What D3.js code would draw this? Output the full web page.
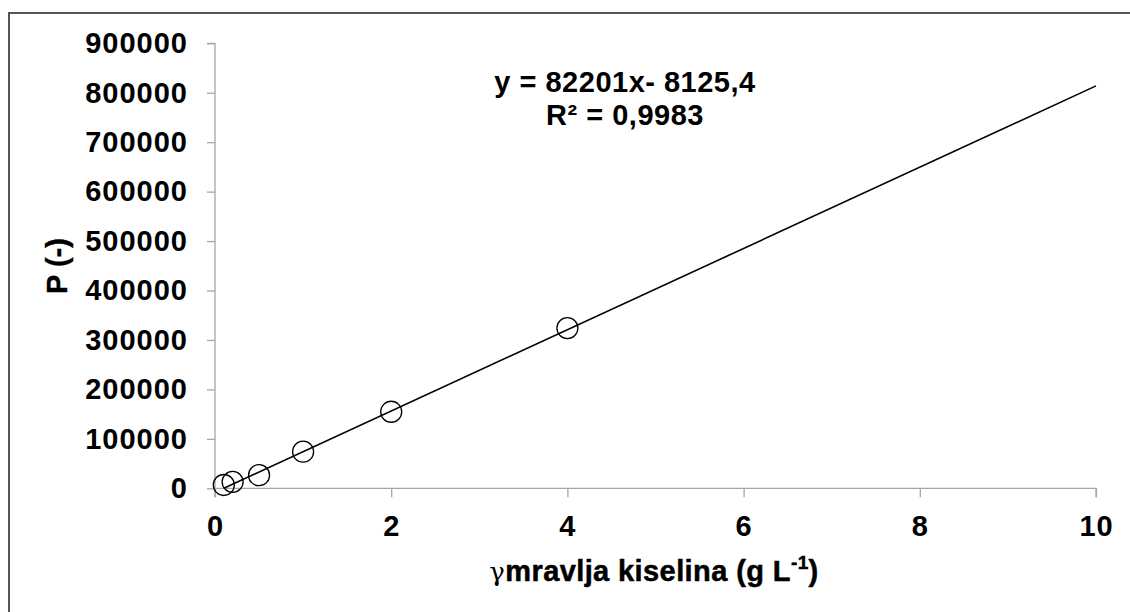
<!DOCTYPE html>
<html>
<head>
<meta charset="utf-8">
<script src="https://cdn.jsdelivr.net/npm/d3@7"></script>
<style>
  html, body { margin: 0; padding: 0; background: #fff; }
  svg { display: block; }
  text { font-family: "Liberation Sans", Arial, sans-serif; font-weight: bold; fill: #000; }
</style>
</head>
<body>
<svg id="chart" width="1130" height="612"></svg>
<script>
// Data
const concentrations = [0.1, 0.2, 0.5, 1, 2, 4];
const peakAreas = [6700, 13000, 26500, 74000, 154800, 324000];
const trendX = [0.1, 10];
const trendY = [95, 813885];
const xTicks = [0, 2, 4, 6, 8, 10];
const yTicks = [0, 100000, 200000, 300000, 400000, 500000, 600000, 700000, 800000, 900000];
const equationLines = ["y = 82201x- 8125,4", "R² = 0,9983"];

const svg = d3.select("#chart");

// outer chart border
svg.append("rect")
  .attr("x", 9).attr("y", 13).attr("width", 1140).attr("height", 620)
  .attr("fill", "none").attr("stroke", "#555").attr("stroke-width", 2);

const x = d3.scaleLinear().domain([0, 10]).range([215, 1096]);
const y = d3.scaleLinear().domain([0, 900000]).range([488.3, 43.3]);

function styleLabels(sel) {
  sel.attr("font-size", 29).attr("font-family", "Liberation Sans, Arial, sans-serif")
    .attr("font-weight", "bold").attr("fill", "#000").attr("letter-spacing", "1px");
}

// Y axis
const yAxis = svg.append("g")
  .attr("transform", `translate(${x(0)},0)`)
  .call(d3.axisLeft(y).tickValues(yTicks).tickFormat(d3.format("d")).tickSize(8).tickPadding(19));
yAxis.select(".domain").attr("stroke", "#a6a6a6").attr("stroke-width", 1.3).attr("d", `M-8,${y(900000)}H0V${y(0)}`);
yAxis.selectAll(".tick line").attr("stroke", "#a6a6a6").attr("stroke-width", 1.3);
styleLabels(yAxis.selectAll(".tick text"));

// X axis
const xAxis = svg.append("g")
  .attr("transform", `translate(0,${y(0)})`)
  .call(d3.axisBottom(x).tickValues(xTicks).tickFormat(d3.format("d")).tickSize(9).tickPadding(18));
xAxis.select(".domain").attr("stroke", "#a6a6a6").attr("stroke-width", 1.3).attr("d", `M${x(0)},9V0H${x(10)}V9`);
xAxis.selectAll(".tick line").attr("stroke", "#a6a6a6").attr("stroke-width", 1.3);
styleLabels(xAxis.selectAll(".tick text"));

// Trend line
svg.append("line")
  .attr("x1", x(trendX[0])).attr("y1", y(trendY[0]))
  .attr("x2", x(trendX[1])).attr("y2", y(trendY[1]))
  .attr("stroke", "#000").attr("stroke-width", 1.6);

// Points
svg.selectAll("circle.pt")
  .data(concentrations.map((c, i) => ({c, p: peakAreas[i]})))
  .join("circle")
  .attr("class", "pt")
  .attr("cx", d => x(d.c)).attr("cy", d => y(d.p))
  .attr("r", 10.5)
  .attr("fill", "none").attr("stroke", "#000").attr("stroke-width", 1.3);

// Equation
svg.append("text")
  .attr("x", 625).attr("y", 92).attr("text-anchor", "middle").attr("font-size", 29)
  .attr("letter-spacing", "0.5px")
  .text(equationLines[0]);
svg.append("text")
  .attr("x", 625).attr("y", 125).attr("text-anchor", "middle").attr("font-size", 29)
  .attr("letter-spacing", "0.5px")
  .text(equationLines[1]);

// Y title
svg.append("text")
  .attr("transform", "translate(67,266) rotate(-90)")
  .attr("text-anchor", "middle").attr("font-size", 29)
  .attr("stroke", "#000").attr("stroke-width", 0.4)
  .text("P (-)");

// X title
const xt = svg.append("text")
  .attr("x", 654).attr("y", 581).attr("text-anchor", "middle").attr("font-size", 29)
  .attr("letter-spacing", "0.4px").attr("stroke", "#000").attr("stroke-width", 0.5);
xt.append("tspan").attr("font-weight", "normal").attr("stroke-width", 0)
  .attr("font-family", "DejaVu Serif, serif").attr("font-size", 26).text("γ");
xt.append("tspan").text("mravlja kiselina (g L");
xt.append("tspan").attr("font-size", 19).attr("dy", -12).text("-1");
xt.append("tspan").attr("dy", 12).text(")");
</script>
</body>
</html>
